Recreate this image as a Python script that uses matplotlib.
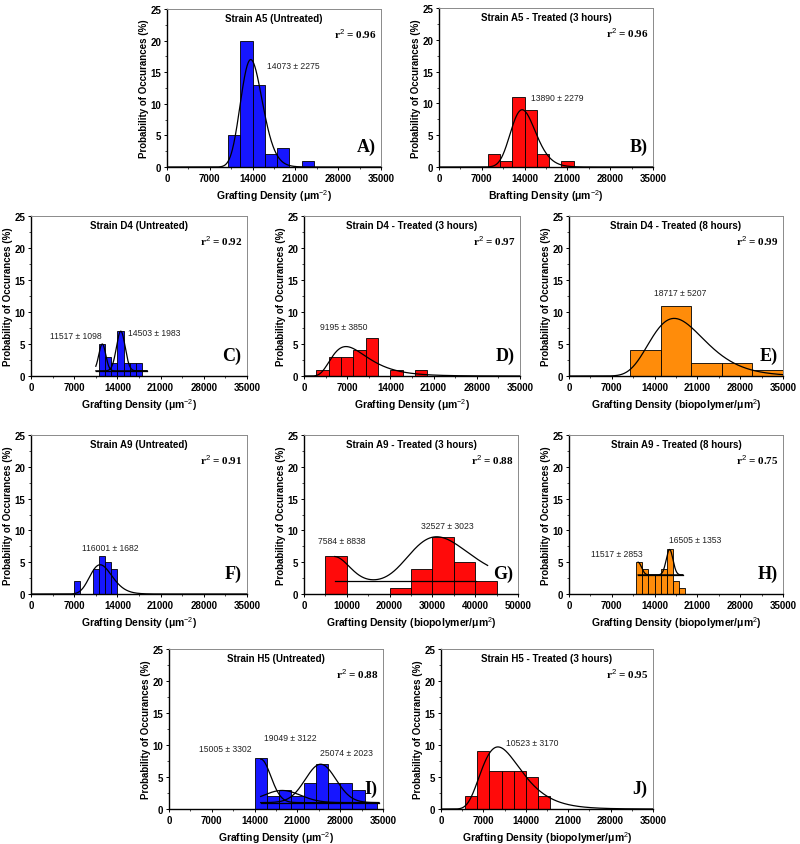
import numpy as np
import matplotlib
matplotlib.use('Agg')
import matplotlib.pyplot as plt
from matplotlib.ticker import MultipleLocator

plt.rcParams['font.family'] = ['Liberation Sans', 'DejaVu Sans']
plt.rcParams['mathtext.fontset'] = 'custom'
plt.rcParams['mathtext.rm'] = 'Liberation Sans'
plt.rcParams['mathtext.it'] = 'Liberation Sans:italic'
plt.rcParams['mathtext.bf'] = 'Liberation Sans:bold'

BLUE = '#1616ff'
RED = '#ff0a0a'
ORANGE = '#ff8c0a'

# ---- histogram data: left bin edges, bin width, occurrence (%) ----
a5_u_edges = [10000, 12000, 14000, 16000, 18000, 20000, 22000]
a5_u_counts = [5, 20, 13, 2, 3, 0, 1]
a5_t3_edges = [8000, 10000, 12000, 14000, 16000, 18000, 20000]
a5_t3_counts = [2, 1, 11, 9, 2, 0, 1]
d4_u_edges = [11000, 12000, 13000, 14000, 15000, 16000, 17000]
d4_u_counts = [5, 3, 2, 7, 2, 2, 2]
d4_t3_edges = [2000, 4000, 6000, 8000, 10000, 12000, 14000, 16000, 18000]
d4_t3_counts = [1, 3, 3, 4, 6, 0, 1, 0, 1]
d4_t8_edges = [10000, 15000, 20000, 25000, 30000]
d4_t8_counts = [4, 11, 2, 2, 1]
a9_u_edges = [7000, 8000, 9000, 10000, 11000, 12000, 13000]
a9_u_counts = [2, 0, 0, 4, 6, 5, 4]
a9_t3_edges = [5000, 10000, 15000, 20000, 25000, 30000, 35000, 40000]
a9_t3_counts = [6, 0, 0, 1, 4, 9, 5, 2]
a9_t8_edges = [11000, 12000, 13000, 14000, 15000, 16000, 17000, 18000]
a9_t8_counts = [5, 4, 3, 3, 4, 7, 2, 1]
h5_u_edges = [14000, 16000, 18000, 20000, 22000, 24000, 26000, 28000, 30000, 32000]
h5_u_counts = [8, 2, 3, 2, 4, 7, 4, 4, 3, 1]
h5_t3_edges = [4000, 6000, 8000, 10000, 12000, 14000, 16000]
h5_t3_counts = [2, 9, 6, 6, 6, 5, 2]

# ---- fitted peaks: (type, centre, width, amplitude) ----
a5_u_peaks = [('logn', 13700, 0.13, 17.0)]
a5_t3_peaks = [('logn', 13600, 0.15, 9.0)]
d4_u_peaks = [('gauss', 11550, 560, 4.2), ('gauss', 14550, 700, 6.2)]
d4_t3_peaks = [('logn', 6800, 0.43, 4.6)]
d4_t8_peaks = [('logn', 17200, 0.26, 9.0)]
a9_u_peaks = [('logn', 11200, 0.16, 4.6)]
a9_t3_peaks = [('gauss', 7000, 3500, 3.9), ('logn', 31000, 0.226, 7.0)]
a9_t8_peaks = [('gauss', 11300, 550, 2.0), ('gauss', 16450, 550, 4.0)]
h5_u_peaks = [('gauss', 15000, 1650, 6.8), ('gauss', 18500, 3000, 1.9),
              ('gauss', 24800, 2500, 6.0)]
h5_t3_peaks = [('logn', 9400, 0.35, 9.7)]

# peak labels and r^2
a5_u_labels = [('14073 ± 2275', 20700, 16.1)]
a5_t3_labels = [('13890 ± 2279', 19400, 10.9)]
d4_u_labels = [('11517 ± 1098', 7200, 6.4), ('14503 ± 1983', 19900, 6.8)]
d4_t3_labels = [('9195 ± 3850', 6400, 7.8)]
d4_t8_labels = [('18717 ± 5207', 18200, 13.1)]
a9_u_labels = [('116001 ± 1682', 12900, 7.3)]
a9_t3_labels = [('7584 ± 8838', 8800, 8.4), ('32527 ± 3023', 33400, 10.8)]
a9_t8_labels = [('11517 ± 2853', 7800, 6.3), ('16505 ± 1353', 20600, 8.5)]
h5_u_labels = [('15005 ± 3302', 9150, 9.4), ('19049 ± 3122', 19900, 11.2),
               ('25074 ± 2023', 29100, 8.75)]
h5_t3_labels = [('10523 ± 3170', 15100, 10.4)]

r2_values = ['0.96', '0.96', '0.92', '0.97', '0.99', '0.91', '0.88', '0.75', '0.88', '0.95']


def peak_curve(x, kind, xc, w, amp):
    if kind == 'logn':
        return amp * np.exp(-np.log(x / xc) ** 2 / (2 * w ** 2))
    return amp * np.exp(-(x - xc) ** 2 / (2 * w ** 2))


XL_UM = 'Grafting Density (μm$^{-2}$)'
XL_BIO = 'Grafting Density (biopolymer/μm$^{2}$)'

# panel: rect px (l, t, r, b), title, letter, edges, width, counts, colour,
#        peaks, fit mode, baseline, curve range, baseline range, labels, xlabel, xmax
panels = [
    ((167, 10, 381, 168), 'Strain A5 (Untreated)', 'A)', a5_u_edges, 2000, a5_u_counts, BLUE,
     a5_u_peaks, 'single', 0, None, None, a5_u_labels, XL_UM, 35000),
    ((439, 9, 653, 168), 'Strain A5 - Treated (3 hours)', 'B)', a5_t3_edges, 2000, a5_t3_counts, RED,
     a5_t3_peaks, 'single', 0, None, None, a5_t3_labels, 'Brafting Density (μm$^{-2}$)', 35000),
    ((31, 217, 247, 377), 'Strain D4 (Untreated)', 'C)', d4_u_edges, 1000, d4_u_counts, BLUE,
     d4_u_peaks, 'separate', 0.8, (10500, 18800), (10500, 18800), d4_u_labels, XL_UM, 35000),
    ((304, 217, 520, 377), 'Strain D4 - Treated (3 hours)', 'D)', d4_t3_edges, 2000, d4_t3_counts, RED,
     d4_t3_peaks, 'single', 0, None, None, d4_t3_labels, XL_UM, 35000),
    ((569, 217, 783, 377), 'Strain D4 - Treated (8 hours)', 'E)', d4_t8_edges, 5000, d4_t8_counts, ORANGE,
     d4_t8_peaks, 'single', 0, None, None, d4_t8_labels, XL_BIO, 35000),
    ((31, 436, 247, 595), 'Strain A9 (Untreated)', 'F)', a9_u_edges, 1000, a9_u_counts, BLUE,
     a9_u_peaks, 'single', 0, None, None, a9_u_labels, XL_UM, 35000),
    ((304, 436, 518, 595), 'Strain A9 - Treated (3 hours)', 'G)', a9_t3_edges, 5000, a9_t3_counts, RED,
     a9_t3_peaks, 'sum', 2.0, (7200, 42900), (7200, 40200), a9_t3_labels, XL_BIO, 50000),
    ((569, 436, 783, 595), 'Strain A9 - Treated (8 hours)', 'H)', a9_t8_edges, 1000, a9_t8_counts, ORANGE,
     a9_t8_peaks, 'separate', 3.0, (11300, 18600), (11300, 18600), a9_t8_labels, XL_BIO, 35000),
    ((169, 650, 383, 810), 'Strain H5 (Untreated)', 'I)', h5_u_edges, 2000, h5_u_counts, BLUE,
     h5_u_peaks, 'separate', 1.0, (15000, 34300), (15000, 34300), h5_u_labels, XL_UM, 35000),
    ((441, 650, 653, 810), 'Strain H5 - Treated (3 hours)', 'J)', h5_t3_edges, 2000, h5_t3_counts, RED,
     h5_t3_peaks, 'single', 0, None, None, h5_t3_labels, XL_BIO, 35000),
]

W, H = 800, 845
fig = plt.figure(figsize=(W / 100, H / 100), dpi=100)

for i, (rect, title, letter, edges, bw, counts, color, peaks, mode, base,
        crange, brange, labels, xlabel, xmax) in enumerate(panels):
    l, t, r, b = rect
    ax = fig.add_axes([l / W, 1 - b / H, (r - l) / W, (b - t) / H])
    ax.bar(edges, counts, width=bw, align='edge', color=color,
           edgecolor='black', linewidth=0.6, zorder=2)

    if mode == 'single':
        x = np.linspace(1, xmax, 600)
        y = sum(peak_curve(x, *p) for p in peaks)
        ax.plot(x, y, color='black', lw=0.9, zorder=3)
    elif mode == 'sum':
        x = np.linspace(crange[0], crange[1], 600)
        y = base + sum(peak_curve(x, *p) for p in peaks)
        ax.plot(x, y, color='black', lw=0.9, zorder=3)
        ax.plot(brange, [base, base], color='black', lw=0.9, zorder=3)
    else:
        x = np.linspace(crange[0], crange[1], 600)
        for p in peaks:
            ax.plot(x, base + peak_curve(x, *p), color='black', lw=0.9, zorder=3)
        ax.plot(brange, [base, base], color='black', lw=0.9, zorder=3)

    for txt, lx, ly in labels:
        ax.text(lx, ly, txt, fontsize=6.2, ha='center', va='center', color='#222222')

    ax.set_xlim(0, xmax)
    ax.set_ylim(0, 25)
    step = 10000 if xmax == 50000 else 7000
    ax.xaxis.set_major_locator(MultipleLocator(step))
    ax.xaxis.set_minor_locator(MultipleLocator(step / 2))
    ax.yaxis.set_major_locator(MultipleLocator(5))
    ax.yaxis.set_minor_locator(MultipleLocator(2.5))
    ax.tick_params(which='major', length=2.5, width=0.7, pad=1.5, labelsize=7)
    ax.tick_params(which='minor', length=1.2, width=0.5)
    for lab in ax.get_xticklabels() + ax.get_yticklabels():
        lab.set_fontweight('bold')
    for side in ('top', 'right'):
        ax.spines[side].set_color('#8a8a8a')
        ax.spines[side].set_linewidth(0.7)
    for side in ('left', 'bottom'):
        ax.spines[side].set_linewidth(1.0)

    ax.set_ylabel('Probability of Occurances (%)', fontsize=7, fontweight='bold', labelpad=1)
    ax.set_xlabel(xlabel, fontsize=7.5, fontweight='bold', labelpad=3)

    ax.text(0.5, 0.945, title, transform=ax.transAxes, ha='center', va='center',
            fontsize=7, fontweight='bold')
    ax.text(0.98, 0.85, 'r$^{2}$ = ' + r2_values[i], transform=ax.transAxes, ha='right',
            va='center', fontsize=8, fontweight='bold', family='Liberation Serif')
    ax.text(0.975, 0.13, letter, transform=ax.transAxes, ha='right', va='center',
            fontsize=13, fontweight='bold', family='Liberation Serif')

fig.savefig('out.png', dpi=100)
